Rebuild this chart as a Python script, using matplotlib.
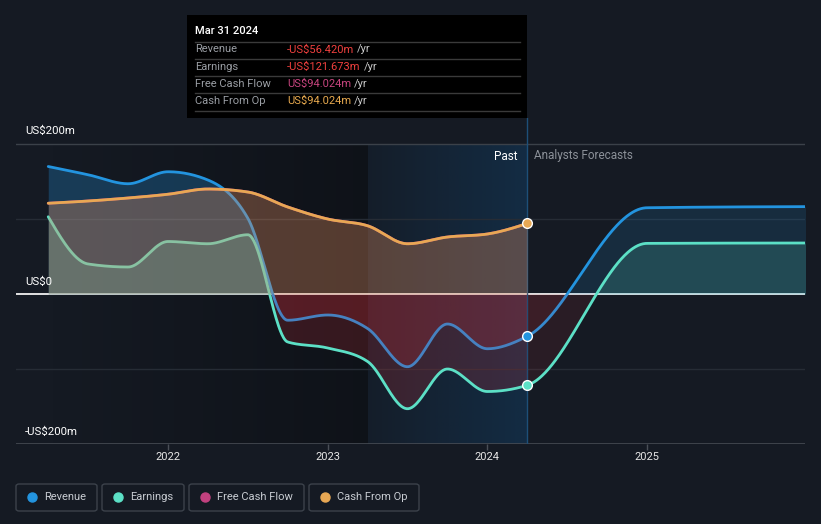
import numpy as np
import matplotlib
matplotlib.use('Agg')
import matplotlib.pyplot as plt
from matplotlib.patches import Rectangle, FancyBboxPatch
from matplotlib.lines import Line2D

plt.rcParams['font.family'] = ['Roboto', 'DejaVu Sans']

# 数据 (US$m)
past_years = [2021.25, 2021.5, 2021.75, 2022.0, 2022.25, 2022.5, 2022.75,
              2023.0, 2023.25, 2023.5, 2023.75, 2024.0, 2024.25]
revenue_past = [170, 159, 147, 163, 152, 101, -35, -28, -46, -97, -40, -73, -56.42]
earnings_past = [103, 40, 36, 70, 67, 79, -64, -72, -90, -153, -100, -130, -121.673]
cfo_past = [121, 124, 128, 133, 140, 136, 116, 100, 91, 67, 76, 80, 94.024]
fcf_past = [121, 124, 128, 133, 140, 136, 116, 100, 91, 67, 76, 80, 94.024]

fc_years = [2025.0, 2026.0]
revenue_fc = [115, 116.5]
earnings_fc = [67.5, 68]

year_ticks = [2022, 2023, 2024, 2025]
series_names = ['Revenue', 'Earnings', 'Free Cash Flow', 'Cash From Op']
series_colors = ['#2394df', '#5ce0c6', '#c2417f', '#e8a854']

BG = '#151a23'
W, H = 821, 524


def fx(x):
    return x / W


def fy(y):
    return 1 - y / H


# 平滑曲线 (单调三次, 和 d3 curveMonotoneX 一样)
def smooth(x, y, n=600):
    x = np.asarray(x, float)
    y = np.asarray(y, float)
    h = np.diff(x)
    s = np.diff(y) / h
    m = np.zeros_like(y)
    for k in range(1, len(x) - 1):
        p = (s[k - 1] * h[k] + s[k] * h[k - 1]) / (h[k - 1] + h[k])
        m[k] = (np.sign(s[k - 1]) + np.sign(s[k])) * min(abs(s[k - 1]), abs(s[k]), 0.5 * abs(p))
    m[0] = (3 * s[0] - m[1]) / 2
    m[-1] = (3 * s[-1] - m[-2]) / 2
    xs = np.linspace(x[0], x[-1], n)
    i = np.clip(np.searchsorted(x, xs) - 1, 0, len(h) - 1)
    t = (xs - x[i]) / h[i]
    h00 = 2 * t**3 - 3 * t**2 + 1
    h10 = t**3 - 2 * t**2 + t
    h01 = -2 * t**3 + 3 * t**2
    h11 = t**3 - t**2
    ys = h00 * y[i] + h10 * h[i] * m[i] + h01 * y[i + 1] + h11 * h[i] * m[i + 1]
    return xs, ys


fig = plt.figure(figsize=(8.21, 5.24), dpi=100, facecolor=BG)
ax = fig.add_axes([fx(16), fy(444), (805 - 16) / W, (444 - 118) / H])
ax.set_facecolor(BG)
x_left = 2022 - 152 / 159.67
x_right = 2025 + 158 / 159.67
ax.set_xlim(x_left, x_right)
ax.set_ylim(-200, 200 + 26 / 0.75)
for sp in ax.spines.values():
    sp.set_visible(False)
ax.set_yticks([])
ax.set_xticks(year_ticks)
ax.set_xticklabels([str(y) for y in year_ticks])
ax.tick_params(axis='x', colors='#4a4f57', length=4, width=1, pad=2,
               labelcolor='#e6e6e6', labelsize=8)

# 背景渐变
grad = np.linspace(0, 1, 256).reshape(1, -1)
dark = np.zeros((1, 256, 4))
dark[..., 3] = grad * 0.3
ax.imshow(dark, extent=[past_years[0], 2023.25, -200, 200], aspect='auto', zorder=0.3)
blue = np.zeros((1, 256, 4))
blue[..., 0] = 0x11 / 255
blue[..., 1] = 0x4a / 255
blue[..., 2] = 0x7a / 255
blue[..., 3] = 0.08 + grad * 0.3
ax.imshow(blue, extent=[2023.25, 2024.25, -200, 200], aspect='auto', zorder=0.4)

# 网格线
ax.axhline(200, color='#3b4149', lw=1, zorder=1)
ax.axhline(100, color='#262c35', lw=1, zorder=1)
ax.axhline(-100, color='#262c35', lw=1, zorder=1)
ax.axhline(-200, color='#464b53', lw=1.2, zorder=1)
ax.axhline(0, color='#f2f2f2', lw=1.3, zorder=1.5)
ax.axvline(2024.25, color='#1d4f78', lw=1, zorder=1.6)

all_series = [
    (revenue_past, revenue_fc),
    (earnings_past, earnings_fc),
    (fcf_past, None),
    (cfo_past, None),
]
fill_alpha_past = [0.28, 0.25, 0.12, 0.25]
fill_alpha_fc = [0.15, 0.17, 0.1, 0.1]
red = '#e0323c'

for k, (past, fc) in enumerate(all_series):
    c = series_colors[k]
    if fc is not None:
        xs, ys = smooth(past_years + fc_years, past + fc, 900)
    else:
        xs, ys = smooth(past_years, past, 600)
    pm = xs <= 2024.25 + 1e-9
    fm = xs >= 2024.25 - 1e-9
    z = 2 + 2 * k
    ax.fill_between(xs[pm], 0, ys[pm], where=ys[pm] >= 0, interpolate=True,
                    color=c, alpha=fill_alpha_past[k], lw=0, zorder=z)
    ax.fill_between(xs[pm], 0, ys[pm], where=ys[pm] <= 0, interpolate=True,
                    color=red, alpha=0.19, lw=0, zorder=z)
    if fc is not None:
        ax.fill_between(xs[fm], 0, ys[fm], where=ys[fm] >= 0, interpolate=True,
                        color=c, alpha=fill_alpha_fc[k], lw=0, zorder=z)
        ax.fill_between(xs[fm], 0, ys[fm], where=ys[fm] <= 0, interpolate=True,
                        color=red, alpha=0.1, lw=0, zorder=z)
    ax.plot(xs, ys, color=c, lw=2, zorder=z + 1, solid_capstyle='round')

# 末端圆点
for k, past in enumerate([revenue_past, earnings_past, cfo_past]):
    c = [series_colors[0], series_colors[1], series_colors[3]][k]
    ax.plot(past_years[-1], past[-1], 'o', ms=7, mfc=c, mec='white', mew=1, zorder=30)

# 文字
ax.text(2024.25 - 0.06, 184, 'Past', color='white', fontsize=8.5, ha='right', va='center', zorder=31)
ax.text(2024.25 + 0.045, 184, 'Analysts Forecasts', color='#8c9199', fontsize=8.5,
        ha='left', va='center', zorder=31)
fig.text(fx(25), fy(131), 'US$200m', color='white', fontsize=8.2, va='center')
fig.text(fx(25), fy(282), 'US$0', color='white', fontsize=8.2, va='center')
fig.text(fx(25), fy(432), '-US$200m', color='white', fontsize=8.2, va='center')

# 提示框
fig.add_artist(Rectangle((fx(187), fy(118)), (527 - 187) / W, (118 - 15) / H,
                         transform=fig.transFigure, facecolor='black', edgecolor='none', zorder=40))
fig.text(fx(195), fy(31), 'Mar 31 2024', color='white', fontsize=8, va='center',
         fontweight='medium', zorder=41)
for yy in [41.5, 58.5, 76, 93, 111]:
    fig.add_artist(Line2D([fx(195), fx(520)], [fy(yy), fy(yy)], color='#3a3a3a', lw=1,
                          transform=fig.transFigure, zorder=41))
tip_rows = ['Revenue', 'Earnings', 'Free Cash Flow', 'Cash From Op']
tip_values = ['-US$56.420m', '-US$121.673m', 'US$94.024m', 'US$94.024m']
tip_colors = ['#f0403e', '#f0403e', '#c8457f', '#e8aa4f']
renderer = fig.canvas.get_renderer()
for i, yy in enumerate([49.5, 66.5, 84, 101]):
    fig.text(fx(195), fy(yy), tip_rows[i], color='#9a9ea4', fontsize=8, va='center', zorder=41)
    t = fig.text(fx(287), fy(yy), tip_values[i], color=tip_colors[i], fontsize=8,
                 va='center', zorder=41)
    bb = t.get_window_extent(renderer)
    fig.text(fx(bb.x1 + 3), fy(yy), '/yr', color='#c8c8c8', fontsize=8, va='center', zorder=41)

# 图例
legend_boxes = [(16, 97), (102, 184), (189, 304), (309, 419)]
for i, name in enumerate(series_names):
    x0, x1 = legend_boxes[i]
    fig.add_artist(FancyBboxPatch((fx(x0), fy(511)), (x1 - x0) / W, 27 / H,
                                  boxstyle='round,pad=0,rounding_size=0.004',
                                  transform=fig.transFigure, facecolor='none',
                                  edgecolor='#3c424b', lw=1))
    fig.add_artist(Line2D([fx(x0 + 15.5)], [fy(497)], marker='o', ms=6.5, color=series_colors[i],
                          lw=0, transform=fig.transFigure))
    fig.text(fx(x0 + 28), fy(497), name, color='#c8ccd2', fontsize=8, va='center')

fig.savefig('out.png', dpi=100, facecolor=BG)
